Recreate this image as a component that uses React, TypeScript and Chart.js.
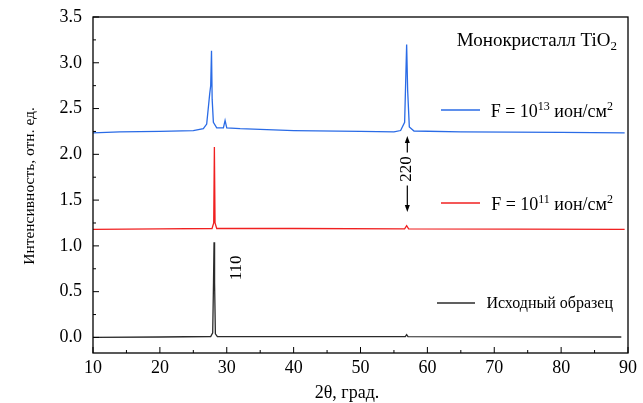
import React, { useEffect, useRef } from "react";
import { Chart, registerables } from "chart.js";

Chart.register(...registerables);

// Data (2θ in degrees, intensity in rel. units)
const THETA_BLACK = [10, 20, 27.6, 27.9, 28.02, 28.1, 28.18, 28.3, 28.6, 40, 56.7, 56.9, 57.1, 89];
const INT_BLACK = [0.0, 0.005, 0.01, 0.05, 0.6, 1.04, 0.6, 0.04, 0.01, 0.008, 0.008, 0.03, 0.008, 0.005];

const THETA_RED = [10, 20, 27.8, 28.05, 28.15, 28.25, 28.5, 40, 56.6, 56.9, 57.2, 89.5];
const INT_RED = [1.18, 1.185, 1.19, 1.25, 2.08, 1.25, 1.19, 1.19, 1.185, 1.22, 1.185, 1.18];

const THETA_BLUE = [10, 14, 20, 25, 26.5, 27.0, 27.3, 27.45, 27.6, 27.72, 27.82, 28.0, 28.5, 29.5, 29.75, 30.0, 32, 40, 50, 55, 56.0, 56.6, 56.9, 57.05, 57.3, 58, 65, 80, 89.5];
const INT_BLUE = [2.235, 2.245, 2.25, 2.26, 2.28, 2.33, 2.55, 2.66, 2.75, 3.13, 2.6, 2.35, 2.29, 2.29, 2.37, 2.29, 2.28, 2.26, 2.25, 2.245, 2.26, 2.35, 3.2, 2.7, 2.3, 2.255, 2.245, 2.24, 2.235];

const X_TICKS = [10, 20, 30, 40, 50, 60, 70, 80, 90];
const Y_TICKS = [0, 0.5, 1.0, 1.5, 2.0, 2.5, 3.0, 3.5];

const SERIES_LABELS = ["Исходный образец", "F = 10^11 ион/см^2", "F = 10^13 ион/см^2"];
const COLORS = ["#2b2b2b", "#f02020", "#2a6be6"];

const FONT = "'Liberation Serif', 'Times New Roman', serif";

function toPoints(xs: number[], ys: number[]) {
  return xs.map((x, i) => ({ x, y: ys[i] }));
}

type Part = { t: string; size: number; dy: number };

function drawParts(ctx: CanvasRenderingContext2D, parts: Part[], xRight: number, y: number) {
  let total = 0;
  for (const p of parts) {
    ctx.font = `${p.size}px ${FONT}`;
    total += ctx.measureText(p.t).width;
  }
  let x = xRight - total;
  ctx.textAlign = "left";
  ctx.textBaseline = "alphabetic";
  for (const p of parts) {
    ctx.font = `${p.size}px ${FONT}`;
    ctx.fillText(p.t, x, y + p.dy);
    x += ctx.measureText(p.t).width;
  }
}

const decorPlugin = {
  id: "decor",
  afterDraw(chart: any) {
    const ctx: CanvasRenderingContext2D = chart.ctx;
    const { left, right, top, bottom } = chart.chartArea;
    const xs = chart.scales.x;
    const ys = chart.scales.y;
    ctx.save();
    // frame
    ctx.strokeStyle = "#000";
    ctx.lineWidth = 1.3;
    ctx.strokeRect(left, top, right - left, bottom - top);
    // inward ticks
    ctx.lineWidth = 1;
    for (let v = 10; v <= 90; v += 5) {
      const px = xs.getPixelForValue(v);
      const len = v % 10 === 0 ? 6 : 3;
      ctx.beginPath();
      ctx.moveTo(px, bottom);
      ctx.lineTo(px, bottom - len);
      ctx.stroke();
    }
    for (let i = 0; i <= 14; i++) {
      const v = i * 0.25;
      const py = ys.getPixelForValue(v);
      const len = i % 2 === 0 ? 6 : 3;
      ctx.beginPath();
      ctx.moveTo(left, py);
      ctx.lineTo(left + len, py);
      ctx.stroke();
    }
    ctx.fillStyle = "#000";
    // axis titles
    ctx.font = `18px ${FONT}`;
    ctx.textAlign = "center";
    ctx.textBaseline = "middle";
    ctx.fillText("2θ, град.", 347, 393);
    ctx.save();
    ctx.translate(30, 186);
    ctx.rotate(-Math.PI / 2);
    ctx.font = `15.5px ${FONT}`;
    ctx.fillText("Интенсивность, отн. ед.", 0, 0);
    ctx.restore();

    // title in plot
    drawParts(ctx, [
      { t: "Монокристалл TiO", size: 19, dy: 0 },
      { t: "2", size: 13, dy: 4 },
    ], 617, 46);

    // legend
    const legend = [
      { color: COLORS[2], y: 110, x1: 441, x2: 480, parts: [
        { t: "F = 10", size: 18, dy: 0 }, { t: "13", size: 12, dy: -7 }, { t: " ион/см", size: 18, dy: 0 }, { t: "2", size: 12, dy: -7 }] },
      { color: COLORS[1], y: 203, x1: 441, x2: 480, parts: [
        { t: "F = 10", size: 18, dy: 0 }, { t: "11", size: 12, dy: -7 }, { t: " ион/см", size: 18, dy: 0 }, { t: "2", size: 12, dy: -7 }] },
      { color: COLORS[0], y: 303, x1: 437, x2: 475, parts: [
        { t: SERIES_LABELS[0], size: 16, dy: -2 }] },
    ];
    for (const l of legend) {
      ctx.strokeStyle = l.color;
      ctx.lineWidth = 1.3;
      ctx.beginPath();
      ctx.moveTo(l.x1, l.y);
      ctx.lineTo(l.x2, l.y);
      ctx.stroke();
      ctx.fillStyle = "#000";
      drawParts(ctx, l.parts, 613, l.y + 7);
    }

    // annotations
    ctx.fillStyle = "#000";
    ctx.font = `17px ${FONT}`;
    ctx.textAlign = "center";
    ctx.textBaseline = "middle";
    const a1x = xs.getPixelForValue(31.5);
    const a1y = ys.getPixelForValue(0.76);
    ctx.save();
    ctx.translate(a1x, a1y);
    ctx.rotate(-Math.PI / 2);
    ctx.fillText("110", 0, 0);
    ctx.restore();

    const ax = xs.getPixelForValue(57);
    const ty = ys.getPixelForValue(1.84);
    ctx.save();
    ctx.translate(ax - 1, ty);
    ctx.rotate(-Math.PI / 2);
    ctx.fillText("220", 0, 0);
    ctx.restore();

    ctx.strokeStyle = "#000";
    ctx.lineWidth = 1.2;
    const upTip = ys.getPixelForValue(2.2);
    const upBase = ys.getPixelForValue(2.02);
    const dnBase = ys.getPixelForValue(1.66);
    const dnTip = ys.getPixelForValue(1.37);
    ctx.beginPath();
    ctx.moveTo(ax, upBase);
    ctx.lineTo(ax, upTip + 4);
    ctx.moveTo(ax, dnBase);
    ctx.lineTo(ax, dnTip - 4);
    ctx.stroke();
    ctx.beginPath();
    ctx.moveTo(ax, upTip);
    ctx.lineTo(ax - 2.5, upTip + 7);
    ctx.lineTo(ax + 2.5, upTip + 7);
    ctx.closePath();
    ctx.fill();
    ctx.beginPath();
    ctx.moveTo(ax, dnTip);
    ctx.lineTo(ax - 2.5, dnTip - 7);
    ctx.lineTo(ax + 2.5, dnTip - 7);
    ctx.closePath();
    ctx.fill();
    ctx.restore();
  },
};

export default function App() {
  const ref = useRef<HTMLCanvasElement>(null);
  useEffect(() => {
    document.body.style.margin = "0";
    const canvas = ref.current!;
    const chart = new Chart(canvas, {
      type: "line",
      data: {
        datasets: [
          { label: SERIES_LABELS[0], data: toPoints(THETA_BLACK, INT_BLACK), borderColor: COLORS[0] },
          { label: SERIES_LABELS[1], data: toPoints(THETA_RED, INT_RED), borderColor: COLORS[1] },
          { label: SERIES_LABELS[2], data: toPoints(THETA_BLUE, INT_BLUE), borderColor: COLORS[2] },
        ].map((d) => ({ ...d, borderWidth: 1.3, pointRadius: 0, tension: 0, fill: false })),
      },
      options: {
        responsive: false,
        animation: false,
        devicePixelRatio: 1,
        layout: { padding: { top: 17, right: 15, left: 0, bottom: 0 } },
        plugins: { legend: { display: false }, tooltip: { enabled: false }, title: { display: false } },
        scales: {
          x: {
            type: "linear",
            min: 10,
            max: 90,
            grid: { display: false, drawTicks: false },
            border: { display: false },
            afterBuildTicks: (s: any) => { s.ticks = X_TICKS.map((v) => ({ value: v })); },
            afterFit: (s: any) => { s.height = 50; s.paddingLeft = 0; s.paddingRight = 0; },
            ticks: { color: "#000", font: { family: FONT, size: 18 }, padding: 4, maxRotation: 0 },
          },
          y: {
            type: "linear",
            min: -0.17,
            max: 3.5,
            grid: { display: false, drawTicks: false },
            border: { display: false },
            afterBuildTicks: (s: any) => { s.ticks = Y_TICKS.map((v) => ({ value: v })); },
            afterFit: (s: any) => { s.width = 93; s.paddingTop = 0; s.paddingBottom = 0; },
            ticks: { color: "#000", font: { family: FONT, size: 18 }, padding: 11, callback: (v: any) => Number(v).toFixed(1) },
          },
        },
      },
      plugins: [decorPlugin],
    } as any);
    return () => chart.destroy();
  }, []);
  return (
    <div style={{ position: "absolute", left: 0, top: 0, width: 643, height: 403, background: "#fff" }}>
      <canvas ref={ref} width={643} height={403} style={{ display: "block" }} />
    </div>
  );
}
